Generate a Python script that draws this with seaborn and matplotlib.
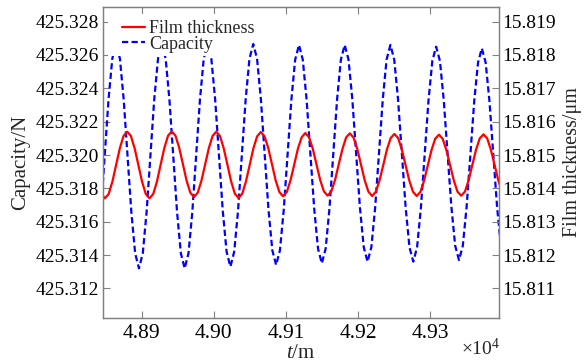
import numpy as np
import pandas as pd
import matplotlib
matplotlib.use("Agg")
import matplotlib.pyplot as plt
import seaborn as sns
from matplotlib.patches import Rectangle
from matplotlib.ticker import FuncFormatter, FixedLocator

# ---------------- data ----------------
# Capacity (left axis, N), sampled every cap_t_step metres from cap_t_start
cap_t_start = 48843.42
cap_t_step = 5.2833
capacity = [
    425.31656, 425.31993, 425.32331, 425.32578, 425.32668,
    425.32578, 425.32331, 425.31994, 425.31657, 425.31410, 425.31320,
    425.31410, 425.31657, 425.31994, 425.32331, 425.32578, 425.32668,
    425.32578, 425.32331, 425.31994, 425.31657, 425.31410, 425.31320,
    425.31410, 425.31657, 425.31994, 425.32330, 425.32577, 425.32667,
    425.32577, 425.32333, 425.31999, 425.31664, 425.31420, 425.31330,
    425.31420, 425.31664, 425.31998, 425.32332, 425.32577, 425.32666,
    425.32577, 425.32335, 425.32003, 425.31672, 425.31429, 425.31340,
    425.31428, 425.31670, 425.32000, 425.32330, 425.32572, 425.32660,
    425.32572, 425.32333, 425.32005, 425.31678, 425.31438, 425.31350,
    425.31438, 425.31678, 425.32005, 425.32333, 425.32572, 425.32660,
    425.32573, 425.32335, 425.32010, 425.31685, 425.31447, 425.31360,
    425.31447, 425.31685, 425.32010, 425.32335, 425.32573, 425.32660,
    425.32573, 425.32335, 425.32010, 425.31685, 425.31447, 425.31360,
    425.31446, 425.31683, 425.32005, 425.32328, 425.32564, 425.32650,
    425.32564, 425.32330, 425.32010, 425.31690, 425.31456, 425.31370,
    425.31455, 425.31688, 425.32005, 425.32323, 425.32555, 425.32640,
    425.32555, 425.32323, 425.32005, 425.31688, 425.31455, 425.31370,
]

# Film thickness (right axis, um), sampled every film_t_step metres from film_t_start
film_t_start = 48843.95
film_t_step = 5.146
film = [
    15.81383,
    15.81370, 15.81383, 15.81420, 15.81470, 15.81520, 15.81557,
    15.81570, 15.81557, 15.81520, 15.81470, 15.81420, 15.81383,
    15.81370, 15.81383, 15.81420, 15.81471, 15.81521, 15.81558,
    15.81571, 15.81558, 15.81522, 15.81473, 15.81423, 15.81387,
    15.81374, 15.81387, 15.81423, 15.81472, 15.81521, 15.81557,
    15.81570, 15.81557, 15.81520, 15.81471, 15.81421, 15.81384,
    15.81371, 15.81384, 15.81421, 15.81470, 15.81520, 15.81556,
    15.81569, 15.81556, 15.81521, 15.81473, 15.81424, 15.81389,
    15.81376, 15.81389, 15.81424, 15.81471, 15.81519, 15.81553,
    15.81566, 15.81553, 15.81519, 15.81472, 15.81425, 15.81391,
    15.81378, 15.81391, 15.81425, 15.81472, 15.81518, 15.81553,
    15.81565, 15.81552, 15.81518, 15.81471, 15.81424, 15.81390,
    15.81377, 15.81390, 15.81424, 15.81470, 15.81517, 15.81551,
    15.81563, 15.81551, 15.81517, 15.81470, 15.81424, 15.81390,
    15.81377, 15.81389, 15.81423, 15.81469, 15.81515, 15.81549,
    15.81561, 15.81549, 15.81515, 15.81470, 15.81424, 15.81390,
    15.81378, 15.81390, 15.81424, 15.81470, 15.81516, 15.81550,
    15.81562, 15.81550, 15.81516, 15.81470, 15.81424, 15.81390,
]

x_ticks = [48900, 49000, 49100, 49200, 49300]
cap_ticks = [425.312, 425.314, 425.316, 425.318, 425.320, 425.322, 425.324, 425.326, 425.328]
film_ticks = [15.811, 15.812, 15.813, 15.814, 15.815, 15.816, 15.817, 15.818, 15.819]
x_range = (48846, 49396)
cap_range = (425.31022, 425.32888)
film_range = (15.81011, 15.81944)

# ---------------- style ----------------
sns.set_theme(style="white")
plt.rcParams['font.family'] = ['Liberation Serif', 'DejaVu Serif']
plt.rcParams['mathtext.fontset'] = 'custom'
plt.rcParams['mathtext.rm'] = 'Liberation Serif'
plt.rcParams['mathtext.it'] = 'Liberation Serif:italic'

GRAY = '#808080'

fig = plt.figure(figsize=(5.86, 3.62), dpi=100)
ax1 = fig.add_axes([0.1753, 0.1215, 0.6768, 0.8592])
ax2 = ax1.twinx()

df_cap = pd.DataFrame({'t': cap_t_start + cap_t_step * np.arange(len(capacity)),
                       'v': capacity})
df_film = pd.DataFrame({'t': film_t_start + film_t_step * np.arange(len(film)),
                        'v': film})

sns.lineplot(data=df_cap, x='t', y='v', ax=ax1, color='#0000ff', lw=1.6,
             errorbar=None, sort=False)
sns.lineplot(data=df_film, x='t', y='v', ax=ax2, color='#ff0000', lw=1.6,
             errorbar=None, sort=False)
blue = ax1.lines[0]
blue.set_dashes((2.8, 1.5))
red = ax2.lines[0]

ax1.set_xlim(*x_range)
ax1.set_ylim(*cap_range)
ax2.set_ylim(*film_range)

ax1.xaxis.set_major_locator(FixedLocator(x_ticks))
ax1.xaxis.set_major_formatter(FuncFormatter(lambda v, p: f"{v/1e4:.2f}"))
ax1.yaxis.set_major_locator(FixedLocator(cap_ticks))
ax1.yaxis.set_major_formatter(FuncFormatter(lambda v, p: f"{v:.3f}"))
ax2.yaxis.set_major_locator(FixedLocator(film_ticks))
ax2.yaxis.set_major_formatter(FuncFormatter(lambda v, p: f"{v:.3f}"))

for ax in (ax1, ax2):
    for s in ax.spines.values():
        s.set_color(GRAY)
        s.set_linewidth(0.9)

ax1.tick_params(axis='x', direction='in', length=5, width=0.8, color=GRAY,
                labelcolor='black', labelsize=15.5, top=True, bottom=True, pad=4)
ax1.tick_params(axis='y', direction='in', length=5, width=0.8, color=GRAY,
                labelcolor='black', labelsize=14, left=True, right=False, pad=2.5)
ax2.tick_params(axis='y', direction='in', length=5, width=0.8, color=GRAY,
                labelcolor='black', labelsize=14, left=False, right=True, pad=2)

ax1.set_xlabel(r'$t$/m', fontsize=15, labelpad=1.0)
ax1.set_ylabel('Capacity/N', fontsize=15, labelpad=4)
ax2.set_ylabel('Film thickness/μm', fontsize=14.5, labelpad=5)

ax1.text(1.003, -0.119, '×10$^{4}$', transform=ax1.transAxes, ha='right',
         va='baseline', fontsize=14)

# white legend background (covers part of the curve, as in the reference)
ax2.add_patch(Rectangle((0.0134, 0.842), 0.32, 0.135, transform=ax2.transAxes,
                        facecolor='white', edgecolor='none', zorder=2.5))
leg = ax2.legend([red, blue], ['Film thickness', 'Capacity'], loc='upper left',
                 bbox_to_anchor=(0.048, 0.958), frameon=False, fontsize=13,
                 handlelength=1.28, handletextpad=0.24, labelspacing=-0.08,
                 borderpad=0, borderaxespad=0)
leg.set_zorder(5)

fig.savefig('out.png', dpi=100)
